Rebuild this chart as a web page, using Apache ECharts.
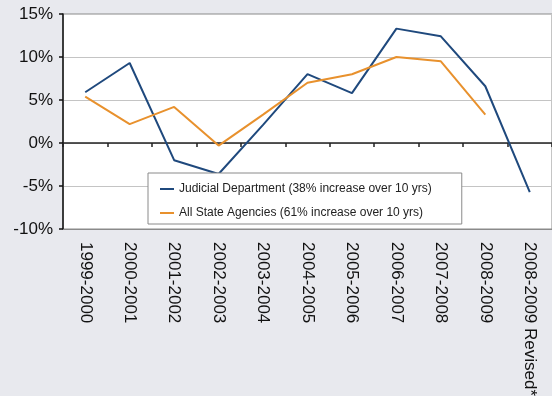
<!DOCTYPE html>
<html>
<head>
    <meta charset="utf-8">
    <title>Judicial vs State Agencies</title>
    <script src="https://cdn.jsdelivr.net/npm/echarts@6/dist/echarts.min.js"></script>
    <style>
        body { margin: 0; background: #e8e9ee; }
    </style>
</head>
<body>
    <div id="chart" style="width:552px;height:396px;"></div>

    <script type="text/javascript">
        var years = ['1999-2000', '2000-2001', '2001-2002', '2002-2003', '2003-2004', '2004-2005',
                     '2005-2006', '2006-2007', '2007-2008', '2008-2009', '2008-2009 Revised*'];
        var judicial = [5.9, 9.3, -2.0, -3.6, 2.1, 8.0, 5.8, 13.3, 12.4, 6.6, -5.7];
        var agencies = [5.4, 2.2, 4.2, -0.3, 3.3, 7.0, 8.0, 10.0, 9.5, 3.3, null];
        var seriesNames = ['Judicial Department (38% increase over 10 yrs)',
                           'All State Agencies (61% increase over 10 yrs)'];

        var font = 'Liberation Sans, Arial, sans-serif';

        var option = {
            backgroundColor: '#e8e9ee',
            animation: false,
            grid: {
                left: 63, right: 0, top: 14, bottom: 167,
                outerBoundsMode: 'none',
                containLabel: false,
                show: true,
                backgroundColor: '#ffffff',
                borderColor: '#8a8a8a',
                borderWidth: 1
            },
            legend: {
                orient: 'vertical',
                left: 148, top: 173,
                padding: [10, 30, 5, 12],
                itemGap: 12,
                itemWidth: 14,
                itemHeight: 2,
                icon: 'rect',
                backgroundColor: '#ffffff',
                borderColor: '#8a8a8a',
                borderWidth: 1,
                textStyle: { fontFamily: font, fontSize: 12, color: '#222' },
                data: seriesNames
            },
            xAxis: [{
                type: 'category',
                data: years,
                position: 'bottom',
                axisLine: { onZero: false, lineStyle: { color: '#8a8a8a' } },
                axisTick: { show: false },
                axisLabel: {
                    interval: 0, rotate: -90, margin: 13,
                    fontFamily: font, fontSize: 17, color: '#111'
                }
            }, {
                type: 'category',
                data: years,
                position: 'top',
                axisLine: { onZero: true, lineStyle: { color: '#222', width: 1.5 } },
                axisTick: { show: true, interval: 0, inside: true, length: 4, lineStyle: { color: '#222', width: 1.5 } },
                axisLabel: { show: false, interval: 0 }
            }],
            yAxis: {
                type: 'value',
                min: -10, max: 15, interval: 5,
                axisLine: { show: true, lineStyle: { color: '#111', width: 1.5 } },
                axisTick: { show: true, length: 4, lineStyle: { color: '#111', width: 1.5 } },
                splitLine: { lineStyle: { color: '#c4c4c4' } },
                axisLabel: {
                    formatter: '{value}%', margin: 10,
                    fontFamily: font, fontSize: 17, color: '#111'
                }
            },
            series: [{
                name: seriesNames[0],
                type: 'line',
                data: judicial,
                symbol: 'none',
                color: '#1f497d',
                lineStyle: { width: 2, color: '#1f497d' }
            }, {
                name: seriesNames[1],
                type: 'line',
                data: agencies,
                symbol: 'none',
                color: '#e8912d',
                lineStyle: { width: 2, color: '#e8912d' }
            }]
        };

        var myChart = echarts.init(document.getElementById('chart'));
        myChart.setOption(option);
    </script>
</body>
</html>
